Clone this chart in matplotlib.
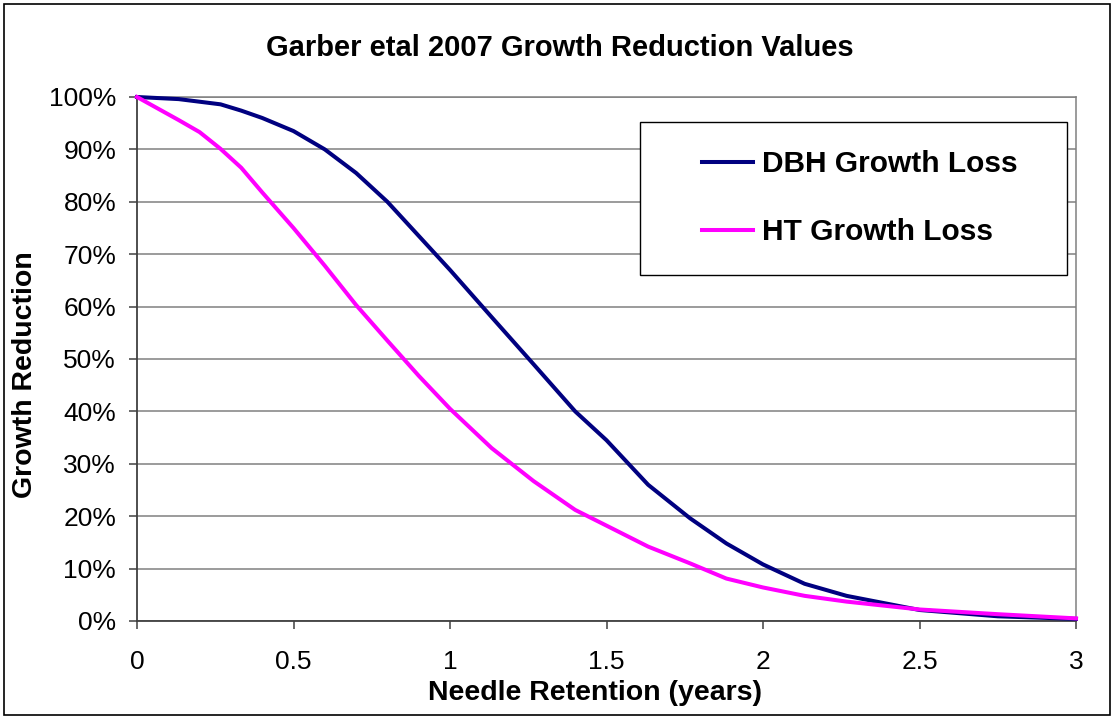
import matplotlib
matplotlib.use("Agg")
import matplotlib.pyplot as plt
import matplotlib.patches as patches
from matplotlib.ticker import FuncFormatter, MultipleLocator

plt.rcParams['font.family'] = ['Liberation Sans', 'DejaVu Sans']

# needle retention (years)
retention = [0, 0.133, 0.2, 0.267, 0.333, 0.4, 0.5, 0.6, 0.7, 0.8, 0.9, 1.0,
             1.133, 1.267, 1.4, 1.5, 1.633, 1.767, 1.883, 2.0, 2.133, 2.267,
             2.5, 2.75, 3.0]
# growth reduction (%)
dbh_loss = [100, 99.6, 99.1, 98.6, 97.4, 96, 93.5, 90, 85.5, 80, 73.5, 67,
            58, 49, 40, 34.5, 26, 19.6, 14.8, 10.8, 7.1, 4.8, 2.1, 0.9, 0.4]
ht_loss = [100, 95.6, 93.3, 90.1, 86.5, 81.8, 75, 67.8, 60.3, 53.5, 46.8, 40.5,
           33, 26.7, 21.2, 18.2, 14.2, 11, 8.1, 6.4, 4.8, 3.7, 2.2, 1.3, 0.5]

x_ticks = [0, 0.5, 1, 1.5, 2, 2.5, 3]
x_ticklabels = ["0", "0.5", "1", "1.5", "2", "2.5", "3"]

W, H = 1115, 719
fig = plt.figure(figsize=(W / 100, H / 100), dpi=100)
ax = fig.add_axes([137 / W, 1 - 621 / H, 939 / W, 524 / H])

ax.plot(retention, dbh_loss, color="#000080", lw=2.9, label="DBH Growth Loss",
        clip_on=False, zorder=3)
ax.plot(retention, ht_loss, color="#FF00FF", lw=2.9, label="HT Growth Loss",
        clip_on=False, zorder=3)

ax.set_xlim(0, 3)
ax.set_ylim(0, 100)
ax.set_xticks(x_ticks)
ax.set_xticklabels(x_ticklabels)
ax.yaxis.set_major_locator(MultipleLocator(10))
ax.yaxis.set_major_formatter(FuncFormatter(lambda v, p: f"{v:.0f}%"))
ax.grid(axis="y", color="#808080", lw=1.1)
ax.set_axisbelow(True)

ax.tick_params(axis="both", labelsize=19, colors="#404040", labelcolor="black",
               length=6, width=1.1, direction="out")
ax.tick_params(axis="x", pad=15)
ax.tick_params(axis="y", pad=9)

for side in ["top", "right"]:
    ax.spines[side].set_color("#808080")
    ax.spines[side].set_linewidth(1.1)
for side in ["left", "bottom"]:
    ax.spines[side].set_color("#404040")
    ax.spines[side].set_linewidth(1.3)

ax.set_xlabel("Needle Retention (years)", fontsize=20.5, fontweight="bold")
ax.set_ylabel("Growth Reduction", fontsize=20.5, fontweight="bold")
ax.xaxis.set_label_coords((595 - 137) / 939, (621 - 693) / 524)
ax.xaxis.label.set_va("center")
ax.yaxis.set_label_coords((25 - 137) / 939, (621 - 375) / 524)
ax.yaxis.label.set_va("center")

fig.text(560 / W, 1 - 48 / H, "Garber etal 2007 Growth Reduction Values",
         fontsize=21, fontweight="bold", ha="center", va="center")

# legend box
ax.add_patch(patches.Rectangle((640 / W, 1 - 275 / H), 427 / W, 153 / H,
                               transform=fig.transFigure, facecolor="white",
                               edgecolor="black", lw=1.0, zorder=5,
                               clip_on=False))
leg = ax.legend(loc="center left", bbox_to_anchor=(702 / W, 1 - 198 / H),
                bbox_transform=fig.transFigure, frameon=False, borderpad=0,
                borderaxespad=0, handlelength=1.71, handletextpad=0.3,
                labelspacing=1.34, prop={"size": 21.5, "weight": "bold"})
leg.set_zorder(6)

# outer chart border
fig.patches.append(patches.Rectangle((4 / W, 4 / H), 1106 / W, 711 / H,
                                     transform=fig.transFigure, fill=False,
                                     edgecolor="black", lw=1.2))

fig.savefig("out.png", dpi=100)
